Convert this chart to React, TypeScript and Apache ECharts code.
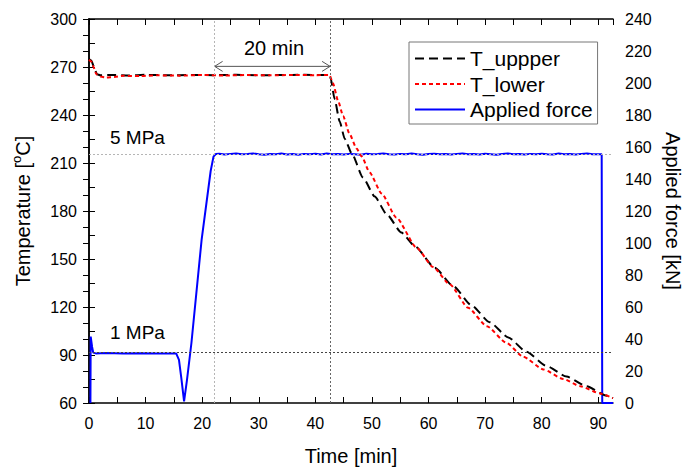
import React, { useEffect, useRef } from "react";
import * as echarts from "echarts";

// ---- data ----
const tUpper: [number, number][] = [
  [0, 275], [0.4, 274], [0.9, 270], [1.4, 265.5], [2, 264.8], [4, 265], [7, 264.7],
  [10, 265.1], [14, 264.8], [18, 265], [22, 264.9], [26, 265.1], [30, 264.8], [34, 265],
  [38, 265.1], [42.3, 265], [42.7, 263], [43.4, 250], [44.3, 236], [45.2, 225], [46.5, 215.5],
  [48.4, 201], [50.5, 189], [52.6, 178], [55.2, 166.5], [57.6, 158], [61.1, 144.5],
  [64.4, 133], [67.6, 121], [70.8, 110.5], [74.1, 101], [77.3, 92], [80.9, 83],
  [84.4, 76.5], [87.9, 70.5], [91.5, 64.5], [92.6, 63],
];

const tLower: [number, number][] = [
  [0, 274.5], [0.4, 273.5], [0.8, 270], [1.3, 265.5], [2, 264], [3, 263.4], [4.5, 263.8],
  [6, 264.5], [9, 264.3], [12, 264.8], [16, 264.6], [20, 265], [24, 264.7], [28, 265],
  [32, 264.8], [36, 265], [40, 264.9], [42.5, 265], [43.1, 260], [44, 249], [44.9, 239.5],
  [46, 228.5], [47.3, 219], [48.2, 214], [49.6, 204], [51.7, 191], [54.3, 176], [57.9, 157],
  [60.8, 145], [63.8, 134], [67, 119.5], [70.3, 108], [73.8, 97.5], [76.7, 89], [80.3, 81],
  [83.8, 75], [86.8, 70.5], [90.3, 66], [92.6, 63],
];

const force: [number, number][] = [
  [0.25, 0], [0.3, 41.5], [0.55, 35], [0.75, 31.5], [1.2, 31], [3, 31.2], [6, 31], [9, 31.1],
  [12, 31], [15.4, 31], [15.9, 27], [16.3, 16], [16.8, 1], [17.3, 14], [18.1, 37.5],
  [19.9, 102], [21.5, 145], [22.0, 154], [22.4, 155.6],
  [23, 155.8], [24, 155.3], [25, 155.7], [26, 155.9], [27, 155.4], [28, 155.6], [29, 156.0],
  [30, 155.4], [31, 155.2], [32, 155.6], [33, 155.5], [34, 155.9], [35, 155.3], [36, 155.6],
  [37, 155.2], [38, 155.7], [39, 155.5], [40, 155.8], [41, 155.3], [42, 155.9], [43, 155.4],
  [44, 155.6], [45, 155.3], [46, 155.7], [47, 155.5], [48, 155.2], [49, 155.8], [50, 155.4],
  [51, 155.6], [52, 156.0], [53, 155.5], [54, 155.3], [55, 155.7], [56, 155.4], [57, 155.9],
  [58, 155.5], [59, 155.2], [60, 155.6], [61, 155.8], [62, 155.4], [63, 155.6], [64, 155.3],
  [65, 155.7], [66, 156.0], [67, 155.4], [68, 155.6], [69, 155.3], [70, 155.8], [71, 155.5],
  [72, 155.2], [73, 155.6], [74, 155.9], [75, 155.4], [76, 155.6], [77, 155.3], [78, 155.7],
  [79, 155.5], [80, 155.8], [81, 155.4], [82, 155.3], [83, 155.9], [84, 155.5], [85, 155.6],
  [86, 155.3], [87, 155.7], [88, 156.0], [89, 155.4], [90, 155.5], [90.6, 155.4],
  [90.7, 0], [92.6, 0],
];

const seriesNames = ["T_uppper", "T_lower", "Applied force"];
const refTimes = [22.2, 42.6]; // vertical dotted lines
const refTemps = [215.7, 91.8]; // horizontal dotted lines (5 MPa, 1 MPa)
const arrowTemp = 270.4;
const annotations = ["20 min", "5 MPa", "1 MPa"];

const FONT = "Liberation Sans, Arial, sans-serif";

export default function App() {
  const ref = useRef<HTMLDivElement>(null);

  useEffect(() => {
    document.body.style.margin = "0";
    if (!ref.current) return;
    const chart = echarts.init(ref.current, undefined, { renderer: "svg" });

    const tickStyle = { show: true, inside: true, length: 6, lineStyle: { color: "#000", width: 1 } };
    const minorStyle = { show: true, splitNumber: 2, length: 6, lineStyle: { color: "#000", width: 1 } };
    const lineStyleAxis = { show: true, lineStyle: { color: "#000", width: 1.5 } };

    chart.setOption({
      animation: false,
      textStyle: { fontFamily: FONT },
      grid: { left: 89, right: 71, top: 19, bottom: 65, containLabel: false, outerBoundsMode: "none" },
      legend: {
        data: seriesNames,
        orient: "vertical",
        left: 409,
        top: 42,
        padding: [6, 5, 4, 5],
        itemGap: 4.5,
        itemWidth: 50,
        itemHeight: 14,
        borderColor: "#777",
        borderWidth: 1,
        backgroundColor: "#fff",
        itemStyle: { opacity: 0 },
        textStyle: { fontSize: 21, color: "#000", fontFamily: FONT },
      },
      xAxis: [
        {
          type: "value",
          min: 0,
          max: 92.6,
          interval: 5,
          position: "bottom",
          name: "Time [min]",
          nameLocation: "middle",
          nameGap: 43,
          nameTextStyle: { fontSize: 20, color: "#000", fontFamily: FONT },
          axisLine: lineStyleAxis,
          axisTick: tickStyle,
          splitLine: { show: false },
          axisLabel: {
            fontSize: 16,
            color: "#000",
            margin: 12,
            showMaxLabel: false,
            formatter: (v: number) => (Math.abs(v % 10) < 1e-6 ? String(v) : ""),
          },
        },
        {
          type: "value",
          min: 0,
          max: 92.6,
          interval: 5,
          position: "top",
          axisLine: lineStyleAxis,
          axisTick: tickStyle,
          axisLabel: { show: false },
          splitLine: { show: false },
        },
      ],
      yAxis: [
        {
          type: "value",
          min: 60,
          max: 300,
          interval: 30,
          position: "left",
          name: "{a|Temperature [}{s|o}{a|C]}",
          nameLocation: "middle",
          nameGap: 53,
          nameTextStyle: {
            color: "#000",
            rich: {
              a: { fontSize: 20, fontFamily: FONT, color: "#000", lineHeight: 26 },
              s: { fontSize: 13, fontFamily: FONT, color: "#000", verticalAlign: "top", lineHeight: 10 },
            },
          },
          axisLine: lineStyleAxis,
          axisTick: tickStyle,
          minorTick: minorStyle,
          splitLine: { show: false },
          axisLabel: { fontSize: 16, color: "#000", margin: 12 },
        },
        {
          type: "value",
          min: 0,
          max: 240,
          interval: 20,
          position: "right",
          name: "Applied force [kN]",
          nameLocation: "middle",
          nameRotate: -90,
          nameGap: 50,
          nameTextStyle: { fontSize: 20, color: "#000", fontFamily: FONT },
          axisLine: lineStyleAxis,
          axisTick: tickStyle,
          minorTick: minorStyle,
          splitLine: { show: false },
          axisLabel: { fontSize: 16, color: "#000", margin: 12 },
        },
      ],
      series: [
        {
          name: seriesNames[0],
          type: "line",
          xAxisIndex: 0,
          yAxisIndex: 0,
          data: tUpper,
          showSymbol: false,
          symbol: "none",
          smooth: 0.2,
          smoothMonotone: "x",
          lineStyle: { color: "#000", width: 2, type: [9, 5] },
          itemStyle: { color: "#000", opacity: 0 },
          z: 3,
          markLine: {
            silent: true,
            symbol: ["none", "none"],
            label: { show: false },
            data: [
              { xAxis: refTimes[0], lineStyle: { color: "#b5b5b5", type: [2, 2], width: 1, opacity: 1 } },
              { xAxis: refTimes[1], lineStyle: { color: "#666", type: [2, 2], width: 1, opacity: 1 } },
              { yAxis: refTemps[0], lineStyle: { color: "#b5b5b5", type: [2, 2], width: 1, opacity: 1 } },
              { yAxis: refTemps[1], lineStyle: { color: "#444", type: [2, 2], width: 1, opacity: 1 } },
            ],
          },
        },
        {
          name: seriesNames[1],
          type: "line",
          xAxisIndex: 0,
          yAxisIndex: 0,
          data: tLower,
          showSymbol: false,
          symbol: "none",
          smooth: 0.2,
          smoothMonotone: "x",
          lineStyle: { color: "#ff0000", width: 2, type: [4, 3] },
          itemStyle: { color: "#ff0000", opacity: 0 },
          z: 4,
        },
        {
          name: seriesNames[2],
          type: "line",
          xAxisIndex: 0,
          yAxisIndex: 1,
          data: force,
          showSymbol: false,
          symbol: "none",
          lineStyle: { color: "#0000ff", width: 2 },
          itemStyle: { color: "#0000ff", opacity: 0 },
          z: 2,
        },
      ],
    });

    const p1 = chart.convertToPixel({ xAxisIndex: 0, yAxisIndex: 0 }, [refTimes[0], arrowTemp]) as number[];
    const p2 = chart.convertToPixel({ xAxisIndex: 0, yAxisIndex: 0 }, [refTimes[1], arrowTemp]) as number[];
    const arrowColor = "#555";
    chart.setOption({
      graphic: [
        { type: "line", shape: { x1: p1[0], y1: p1[1], x2: p2[0], y2: p2[1] }, style: { stroke: arrowColor, lineWidth: 1 }, silent: true },
        { type: "polyline", shape: { points: [[p1[0] + 8, p1[1] - 5], [p1[0], p1[1]], [p1[0] + 8, p1[1] + 5]] }, style: { stroke: arrowColor, lineWidth: 1, fill: "none" }, silent: true },
        { type: "polyline", shape: { points: [[p2[0] - 8, p2[1] - 5], [p2[0], p2[1]], [p2[0] - 8, p2[1] + 5]] }, style: { stroke: arrowColor, lineWidth: 1, fill: "none" }, silent: true },
        { type: "text", x: 274, y: 47.5, style: { text: annotations[0], fontSize: 20, fontFamily: FONT, fill: "#000", align: "center", verticalAlign: "middle" }, silent: true },
        { type: "text", x: 110, y: 137, style: { text: annotations[1], fontSize: 19, fontFamily: FONT, fill: "#000", align: "left", verticalAlign: "middle" }, silent: true },
        { type: "text", x: 110, y: 332.5, style: { text: annotations[2], fontSize: 19, fontFamily: FONT, fill: "#000", align: "left", verticalAlign: "middle" }, silent: true },
      ],
    });

    return () => chart.dispose();
  }, []);

  return <div ref={ref} style={{ width: 684, height: 468 }} />;
}
